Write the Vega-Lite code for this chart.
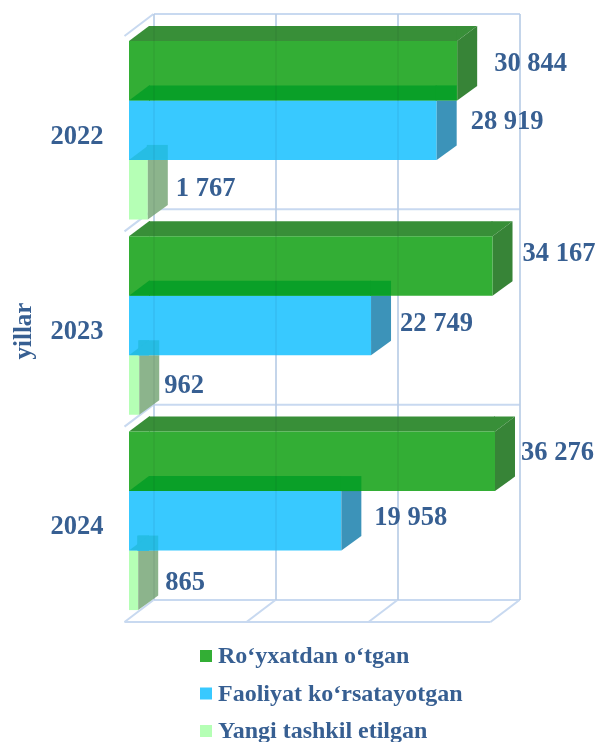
{
"$schema":"https://vega.github.io/schema/vega-lite/v6.json",
"width":366,"height":586,
"autosize":{"type":"none"},
"padding":{"left":129,"top":32.5,"right":102,"bottom":123.5},
"background":"white",
"config":{"view":{"stroke":null},"font":"Liberation Serif"},
"datasets":{
"bars":[
{"year":"2022","series":"Ro‘yxatdan o‘tgan","value":30844,"label":"30 844"},
{"year":"2022","series":"Faoliyat ko‘rsatayotgan","value":28919,"label":"28 919"},
{"year":"2022","series":"Yangi tashkil etilgan","value":1767,"label":"1 767"},
{"year":"2023","series":"Ro‘yxatdan o‘tgan","value":34167,"label":"34 167"},
{"year":"2023","series":"Faoliyat ko‘rsatayotgan","value":22749,"label":"22 749"},
{"year":"2023","series":"Yangi tashkil etilgan","value":962,"label":"962"},
{"year":"2024","series":"Ro‘yxatdan o‘tgan","value":36276,"label":"36 276"},
{"year":"2024","series":"Faoliyat ko‘rsatayotgan","value":19958,"label":"19 958"},
{"year":"2024","series":"Yangi tashkil etilgan","value":865,"label":"865"}
],
"ticks":[{"tick":0},{"tick":11467},{"tick":22933},{"tick":34400}],
"one":[{"tick":0}]
},
"encoding":{
"x":{"field":"value","type":"quantitative","stack":null,"title":null,"axis":null,"scale":{"domain":[0,34400],"clamp":true,"nice":false,"zero":true}},
"y":{"field":"year","type":"nominal","sort":["2022","2023","2024"],"title":"yillar",
"scale":{"type":"band","domain":["2022","2023","2024"],"paddingInner":0,"paddingOuter":0},
"axis":{"domain":false,"ticks":false,"grid":false,"labelFontSize":26.5,"labelFontWeight":"bold","labelColor":"#375F92","labelPadding":26,"labelOffset":5.5,"labelAngle":0,"titleFontSize":25,"titleFontWeight":"bold","titleColor":"#375F92","titleX":-94,"titleY":298,"titleAngle":270}}
},
"layer":[
{"data":{"name":"ticks"},"mark":{"type":"point","shape":"M25,-18.5 L25,567.5","filled":false,"size":4,"color":"#D0E0F4","strokeWidth":2,"opacity":1},"encoding":{"x":{"field":"tick","type":"quantitative"},"y":{"datum":"2022","bandPosition":0}}},
{"data":{"name":"one"},"mark":{"type":"point","shape":"M25,-18.5 L391,-18.5","filled":false,"size":4,"color":"#C8D9F0","strokeWidth":2,"opacity":1},"encoding":{"x":{"field":"tick","type":"quantitative"},"y":{"datum":"2022","bandPosition":0}}},
{"data":{"name":"one"},"mark":{"type":"point","shape":"M25,-18.5 L391,-18.5","filled":false,"size":4,"color":"#C8D9F0","strokeWidth":2,"opacity":1},"encoding":{"x":{"field":"tick","type":"quantitative"},"y":{"datum":"2023","bandPosition":0}}},
{"data":{"name":"one"},"mark":{"type":"point","shape":"M25,-18.5 L391,-18.5","filled":false,"size":4,"color":"#C8D9F0","strokeWidth":2,"opacity":1},"encoding":{"x":{"field":"tick","type":"quantitative"},"y":{"datum":"2024","bandPosition":0}}},
{"data":{"name":"one"},"mark":{"type":"point","shape":"M25,-18.5 L391,-18.5 M-4.5,3.5 L361.5,3.5","filled":false,"size":4,"color":"#C8D9F0","strokeWidth":2,"opacity":1},"encoding":{"x":{"field":"tick","type":"quantitative"},"y":{"datum":"2024","bandPosition":1}}},
{"data":{"name":"one"},"mark":{"type":"point","shape":"M-4.5,3.5 L24.5,-18.5","filled":false,"size":4,"color":"#C8D9F0","strokeWidth":2,"opacity":1},"encoding":{"x":{"field":"tick","type":"quantitative"},"y":{"datum":"2022","bandPosition":0}}},
{"data":{"name":"one"},"mark":{"type":"point","shape":"M-4.5,3.5 L24.5,-18.5","filled":false,"size":4,"color":"#C8D9F0","strokeWidth":2,"opacity":1},"encoding":{"x":{"field":"tick","type":"quantitative"},"y":{"datum":"2023","bandPosition":0}}},
{"data":{"name":"one"},"mark":{"type":"point","shape":"M-4.5,3.5 L24.5,-18.5","filled":false,"size":4,"color":"#C8D9F0","strokeWidth":2,"opacity":1},"encoding":{"x":{"field":"tick","type":"quantitative"},"y":{"datum":"2024","bandPosition":0}}},
{"data":{"name":"ticks"},"mark":{"type":"point","shape":"M-4.5,3.5 L24.5,-18.5","filled":false,"size":4,"color":"#C8D9F0","strokeWidth":2,"opacity":1},"encoding":{"x":{"field":"tick","type":"quantitative"},"y":{"datum":"2024","bandPosition":1}}},
{"data":{"name":"bars"},
"encoding":{"yOffset":{"field":"series","type":"nominal","sort":["Ro‘yxatdan o‘tgan","Faoliyat ko‘rsatayotgan","Yangi tashkil etilgan"],"scale":{"domain":["Ro‘yxatdan o‘tgan","Faoliyat ko‘rsatayotgan","Yangi tashkil etilgan"],"paddingInner":0,"paddingOuter":0.1414}}},
"layer":[
{"transform":[{"filter":"datum.series=='Ro‘yxatdan o‘tgan'"}],"layer":[
{"mark":{"type":"rule","strokeWidth":15,"color":"#388F38","x2Offset":20,"yOffset":-96.75},"encoding":{"x2":{"datum":0},"yOffset":null}},
{"mark":{"type":"point","shape":"M-1,-29.75 L0,-29.75 L20,-44.75 L-1,-44.75 Z","filled":true,"size":4,"color":"#388F38","opacity":1}},
{"mark":{"type":"point","shape":"M0,-29.75 L20,-44.75 L21,-44.75 L21,-29.75 Z","filled":true,"size":4,"color":"#388F38","opacity":1},"encoding":{"x":{"datum":0}}},
{"mark":{"type":"point","shape":"M0,-29.75 L20,-44.75 L20,15.25 L0,29.75 Z","filled":true,"size":4,"color":"#378437","opacity":1}}
]},
{"mark":{"type":"bar","size":59.5},"encoding":{"color":{"field":"series","type":"nominal","sort":["Ro‘yxatdan o‘tgan","Faoliyat ko‘rsatayotgan","Yangi tashkil etilgan"],"scale":{"domain":["Ro‘yxatdan o‘tgan","Faoliyat ko‘rsatayotgan","Yangi tashkil etilgan"],"range":["#33AE35","#38C9FF","#B5FFB5"]},"legend":{"title":null,"orient":"none","legendX":65,"legendY":611.5,"symbolType":"square","symbolSize":144,"symbolStrokeWidth":0,"symbolOpacity":1,"labelFontSize":24,"labelFontWeight":"bold","labelColor":"#375F92","labelFont":"Liberation Serif","labelLimit":400,"rowPadding":13.5,"labelOffset":0}},"opacity":{"value":1}}},
{"transform":[{"filter":"datum.series=='Faoliyat ko‘rsatayotgan'"}],"layer":[
{"mark":{"type":"point","shape":"M0,-29.75 L20,-29.75 L20,15.25 L0,29.75 Z","filled":true,"size":4,"color":"#3C93B9","opacity":1}},
{"mark":{"type":"rule","strokeWidth":15,"color":"#0AA028","x2Offset":20,"yOffset":-37.25},"encoding":{"x2":{"datum":0},"yOffset":null}},
{"mark":{"type":"point","shape":"M-1,-29.75 L-1,-44.75 L20,-44.75 L20,-29.75 Z","filled":true,"size":4,"color":"#0AA028","opacity":1}},
{"mark":{"type":"point","shape":"M0,-29.75 L20,-44.75 L21,-44.75 L21,-29.75 Z","filled":true,"size":4,"color":"#0AA028","opacity":1},"encoding":{"x":{"datum":0}}}
]},
{"transform":[{"filter":"datum.series=='Yangi tashkil etilgan'"}],"layer":[
{"mark":{"type":"point","shape":"M0,-29.75 L20,-29.75 L20,15.25 L0,29.75 Z","filled":true,"size":4,"color":"#8CB48C","opacity":1}},
{"mark":{"type":"rule","strokeWidth":15,"color":"#26BDE4","x2Offset":20,"yOffset":22.25},"encoding":{"x2":{"datum":0},"yOffset":null}},
{"mark":{"type":"point","shape":"M-1,-29.75 L-1,-44.75 L20,-44.75 L20,-29.75 Z","filled":true,"size":4,"color":"#26BDE4","opacity":1}},
{"mark":{"type":"point","shape":"M0,-29.75 L20,-44.75 L20,-29.75 Z","filled":true,"size":4,"color":"#26BDE4","opacity":1},"encoding":{"x":{"datum":0}}}
]}
]},
{"data":{"name":"ticks"},"mark":{"type":"point","shape":"M25,-18.5 L25,567.5","filled":false,"size":4,"color":"#C0C8D0","strokeWidth":2,"opacity":0.22,"blend":"multiply"},"encoding":{"x":{"field":"tick","type":"quantitative"},"y":{"datum":"2022","bandPosition":0}}},
{"data":{"name":"bars"},
"encoding":{"yOffset":{"field":"series","type":"nominal"},"text":{"field":"label"}},
"layer":[
{"transform":[{"filter":"datum.label=='30 844'"}],"mark":{"type":"text","align":"left","fontSize":26.5,"fontWeight":"bold","color":"#375F92","dx":37,"dy":-8}},
{"transform":[{"filter":"datum.label=='28 919'"}],"mark":{"type":"text","align":"left","fontSize":26.5,"fontWeight":"bold","color":"#375F92","dx":34,"dy":-9}},
{"transform":[{"filter":"datum.label=='1 767'"}],"mark":{"type":"text","align":"left","fontSize":26.5,"fontWeight":"bold","color":"#375F92","dx":28,"dy":-2}},
{"transform":[{"filter":"datum.label=='34 167'"}],"mark":{"type":"text","align":"left","fontSize":26.5,"fontWeight":"bold","color":"#375F92","dx":30,"dy":-13}},
{"transform":[{"filter":"datum.label=='22 749'"}],"mark":{"type":"text","align":"left","fontSize":26.5,"fontWeight":"bold","color":"#375F92","dx":29,"dy":-3}},
{"transform":[{"filter":"datum.label=='962'"}],"mark":{"type":"text","align":"left","fontSize":26.5,"fontWeight":"bold","color":"#375F92","dx":25,"dy":0}},
{"transform":[{"filter":"datum.label=='36 276'"}],"mark":{"type":"text","align":"left","fontSize":26.5,"fontWeight":"bold","color":"#375F92","dx":26,"dy":-9}},
{"transform":[{"filter":"datum.label=='19 958'"}],"mark":{"type":"text","align":"left","fontSize":26.5,"fontWeight":"bold","color":"#375F92","dx":33,"dy":-4}},
{"transform":[{"filter":"datum.label=='865'"}],"mark":{"type":"text","align":"left","fontSize":26.5,"fontWeight":"bold","color":"#375F92","dx":27,"dy":2}}
]}
]
}
